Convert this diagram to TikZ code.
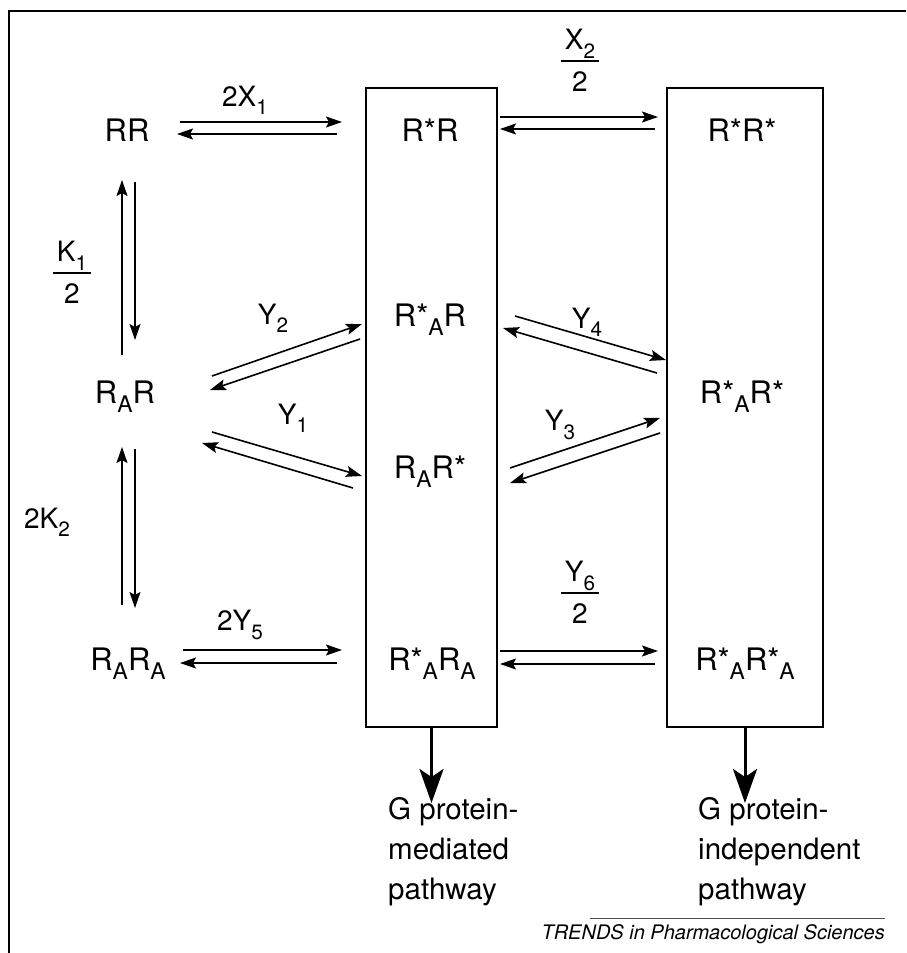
\documentclass[tikz,border=0pt]{standalone}
\usepackage{fontspec}
\setmainfont{TeX Gyre Heros}
\usetikzlibrary{arrows.meta}

% lowered, reduced index letter
\newcommand{\sbs}[1]{\raisebox{-0.3em}{\scalebox{0.74}{#1}}}
% stacked rate constant over a divisor
\newcommand{\ratefrac}[2]{\setlength\tabcolsep{4pt}\setlength\arrayrulewidth{1.5pt}\begin{tabular}{c}#1\\[1pt]\hline\\[-25pt]#2\end{tabular}}

\begin{document}
\begin{tikzpicture}[x=1pt,y=-1pt,
  species/.style={font=\fontsize{31}{35}\selectfont, inner sep=0pt},
  rate/.style={font=\fontsize{28}{32}\selectfont, inner sep=0pt},
  pathway/.style={font=\fontsize{29.5}{40}\selectfont, inner sep=0pt, align=left, anchor=north west},
  stack/.style={draw, line width=1.5pt, inner sep=0pt},
  react/.style={line width=1.6pt, -{Stealth[length=16pt,width=11pt,inset=3pt]}},
  outflow/.style={line width=3pt, -{Stealth[length=34pt,width=24pt,inset=8pt]}}
]
\useasboundingbox (0,0) rectangle (906,953);

% frame
\draw[line width=2pt] (9,953) -- (9,11) -- (906,11);

% the two receptor-state boxes
\node[stack, minimum width=131pt, minimum height=639pt] (B1) at (431.5,407.5) {};
\node[stack, minimum width=156pt, minimum height=639pt] (B2) at (745,407.5) {};

% species
\node[species] (RR)     at (127,130) {RR};
\node[species] (RAR)    at (125,397) {R\sbs{A}R};
\node[species] (RARA)   at (128,664) {R\sbs{A}R\sbs{A}};
\node[species] (RsR)    at (430,130) {R*R};
\node[species] (RsAR)   at (430,320) {R*\sbs{A}R};
\node[species] (RARs)   at (430,472) {R\sbs{A}R*};
\node[species] (RsARA)  at (432,664) {R*\sbs{A}R\sbs{A}};
\node[species] (RsRs)   at (742,130) {R*R*};
\node[species] (RsARs)  at (742,397) {R*\sbs{A}R*};
\node[species] (RsARsA) at (745,664) {R*\sbs{A}R*\sbs{A}};

% rate constants
\node[rate] (l2X1) at (245,100) {2X\sbs{1}};
\node[rate] (lX2) at (580,64) {\ratefrac{X\sbs{2}}{2}};
\node[rate] (lK1) at (72,276) {\ratefrac{K\sbs{1}}{2}};
\node[rate] (lY2) at (273,318) {Y\sbs{2}};
\node[rate] (lY1) at (293,418) {Y\sbs{1}};
\node[rate] (lY4) at (587,322) {Y\sbs{4}};
\node[rate] (lY3) at (560,425) {Y\sbs{3}};
\node[rate] (l2K2) at (47,522) {2K\sbs{2}};
\node[rate] (l2Y5) at (240,625) {2Y\sbs{5}};
\node[rate] (lY6) at (580,596) {\ratefrac{Y\sbs{6}}{2}};

% arrow end points
\coordinate (a1) at (180,122); \coordinate (a2) at (342,122);
\coordinate (a3) at (337,134); \coordinate (a4) at (177,134);
\coordinate (b1) at (500,117); \coordinate (b2) at (658,117);
\coordinate (b3) at (655,129); \coordinate (b4) at (500,129);
\coordinate (c1) at (122,355); \coordinate (c2) at (122,180);
\coordinate (c3) at (135,182); \coordinate (c4) at (135,340);
\coordinate (d1) at (122,605); \coordinate (d2) at (122,447);
\coordinate (d3) at (135,449); \coordinate (d4) at (135,608);
\coordinate (e1) at (212,376); \coordinate (e2) at (362,324);
\coordinate (e3) at (360,339); \coordinate (e4) at (210,390);
\coordinate (f1) at (212,432); \coordinate (f2) at (362,476);
\coordinate (f3) at (353,488); \coordinate (f4) at (202,443);
\coordinate (g1) at (515,316); \coordinate (g2) at (666,360);
\coordinate (g3) at (657,373); \coordinate (g4) at (503,328);
\coordinate (h1) at (510,468); \coordinate (h2) at (660,418);
\coordinate (h3) at (660,433); \coordinate (h4) at (510,483);
\coordinate (i1) at (183,650); \coordinate (i2) at (342,650);
\coordinate (i3) at (337,663); \coordinate (i4) at (180,663);
\coordinate (j1) at (500,651); \coordinate (j2) at (658,651);
\coordinate (j3) at (655,664); \coordinate (j4) at (500,664);

% equilibria
\draw[react] (a1) -- (a2); \draw[react] (a3) -- (a4);
\draw[react] (b1) -- (b2); \draw[react] (b3) -- (b4);
\draw[react] (c1) -- (c2); \draw[react] (c3) -- (c4);
\draw[react] (d1) -- (d2); \draw[react] (d3) -- (d4);
\draw[react] (e1) -- (e2); \draw[react] (e3) -- (e4);
\draw[react] (f1) -- (f2); \draw[react] (f3) -- (f4);
\draw[react] (g1) -- (g2); \draw[react] (g3) -- (g4);
\draw[react] (h1) -- (h2); \draw[react] (h3) -- (h4);
\draw[react] (i1) -- (i2); \draw[react] (i3) -- (i4);
\draw[react] (j1) -- (j2); \draw[react] (j3) -- (j4);

% signalling outputs
\node[pathway] (P1) at (388,797) {G protein-\\mediated\\pathway};
\node[pathway] (P2) at (698,797) {G protein-\\independent\\pathway};
\draw[outflow] (B1.south) -- ([yshift=-6pt]B1.south |- P1.north);
\draw[outflow] (B2.south) -- ([yshift=-6pt]B2.south |- P2.north);

% journal footer
\coordinate (fl) at (590,918); \coordinate (fr) at (885,918);
\draw[line width=1pt, black!70] (fl) -- (fr);
\node[font=\fontsize{20}{23}\selectfont\itshape, anchor=north east, inner sep=0pt] (src) at (885,924) {TRENDS in Pharmacological Sciences};
\end{tikzpicture}
\end{document}
